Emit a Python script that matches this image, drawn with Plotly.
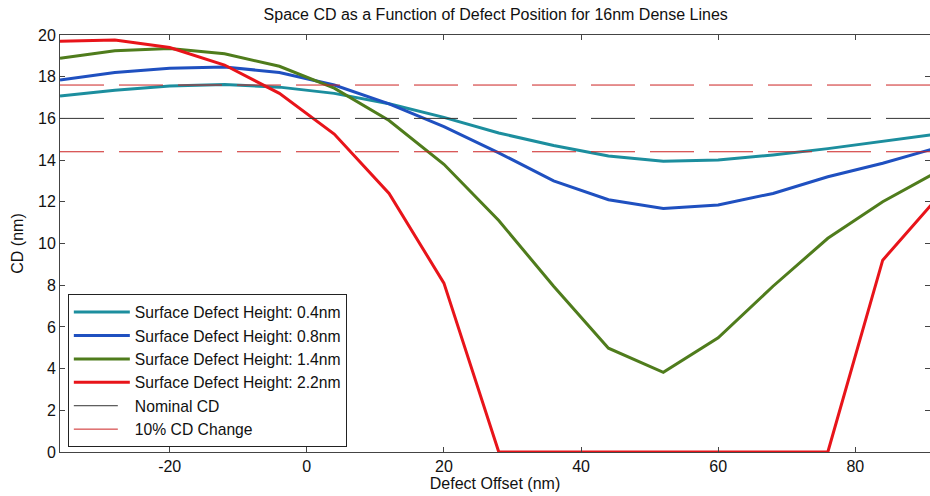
import plotly.graph_objects as go

x = [-36, -28, -20, -12, -4, 4, 12, 20, 28, 36, 44, 52, 60, 68, 76, 84, 92]
h04 = [17.07, 17.35, 17.55, 17.62, 17.5, 17.2, 16.7, 16.05, 15.3, 14.7, 14.2, 13.95, 14.0, 14.25, 14.55, 14.9, 15.25]
h08 = [17.84, 18.2, 18.4, 18.47, 18.2, 17.6, 16.7, 15.6, 14.35, 13.0, 12.1, 11.68, 11.85, 12.4, 13.2, 13.85, 14.6]
h14 = [18.88, 19.25, 19.35, 19.1, 18.5, 17.45, 15.9, 13.8, 11.1, 7.95, 4.98, 3.82, 5.48, 7.95, 10.25, 12.0, 13.45]
h22 = [19.7, 19.76, 19.4, 18.56, 17.2, 15.25, 12.4, 8.1, 0.0, 0.0, 0.0, 0.0, 0.0, 0.0, 0.0, 9.2, 12.2]
nominal_cd = 16.0
cd_band = [17.6, 14.4]
x_ticks = [-20, 0, 20, 40, 60, 80]
x_tick_labels = ["-20", "0", "20", "40", "60", "80"]

series_names = ["Surface Defect Height: 0.4nm", "Surface Defect Height: 0.8nm",
                "Surface Defect Height: 1.4nm", "Surface Defect Height: 2.2nm"]
colors = ["#1c8e9e", "#1f50c0", "#4f7c1c", "#e8141a"]

fig = go.Figure()
for name, ys, c in zip(series_names, [h04, h08, h14, h22], colors):
    fig.add_trace(go.Scatter(x=x, y=ys, mode="lines", name=name, cliponaxis=False,
                             line=dict(color=c, width=3)))

xline = [x[0], x[-1]]
fig.add_trace(go.Scatter(x=xline, y=[nominal_cd, nominal_cd], mode="lines", name="Nominal CD",
                         line=dict(color="#333333", width=1, dash="44px,15px")))
for i, v in enumerate(cd_band):
    fig.add_trace(go.Scatter(x=xline, y=[v, v], mode="lines", name="10% CD Change",
                             showlegend=(i == 0),
                             line=dict(color="#cc2222", width=1, dash="44px,15px")))

font_family = "Liberation Sans, Arial, sans-serif"
fig.update_layout(
    width=930, height=496,
    margin=dict(l=60, r=0, t=35, b=44),
    paper_bgcolor="white", plot_bgcolor="white",
    font=dict(family=font_family, size=16, color="#111111"),
    title=dict(text="Space CD as a Function of Defect Position for 16nm Dense Lines",
               x=0.533, xanchor="center", y=0.970, yanchor="middle",
               font=dict(size=16, family=font_family)),
    showlegend=True,
    legend=dict(x=0.009, y=0.378, xanchor="left", yanchor="top",
                bgcolor="white", bordercolor="#222222", borderwidth=1,
                font=dict(size=15.7, family=font_family),
                itemwidth=56, tracegroupgap=0),
)
fig.update_xaxes(range=[-36, 90.9], tickvals=x_ticks, ticktext=x_tick_labels,
                 ticks="inside", ticklen=5, tickcolor="#444444",
                 showline=True, linecolor="#444444", linewidth=1, mirror="ticks",
                 showgrid=False, zeroline=False,
                 title=dict(text="Defect Offset (nm)", standoff=2, font=dict(size=16)))
fig.update_yaxes(range=[0, 20], tickvals=list(range(0, 21, 2)),
                 ticks="inside", ticklen=5, tickcolor="#444444",
                 showline=True, linecolor="#444444", linewidth=1, mirror="ticks",
                 showgrid=False, zeroline=False,
                 title=dict(text="CD (nm)", standoff=10, font=dict(size=16)))

fig.write_html("out.html", config={"displayModeBar": False},
               post_script="document.body.style.margin='0';document.body.style.overflow='hidden';")
